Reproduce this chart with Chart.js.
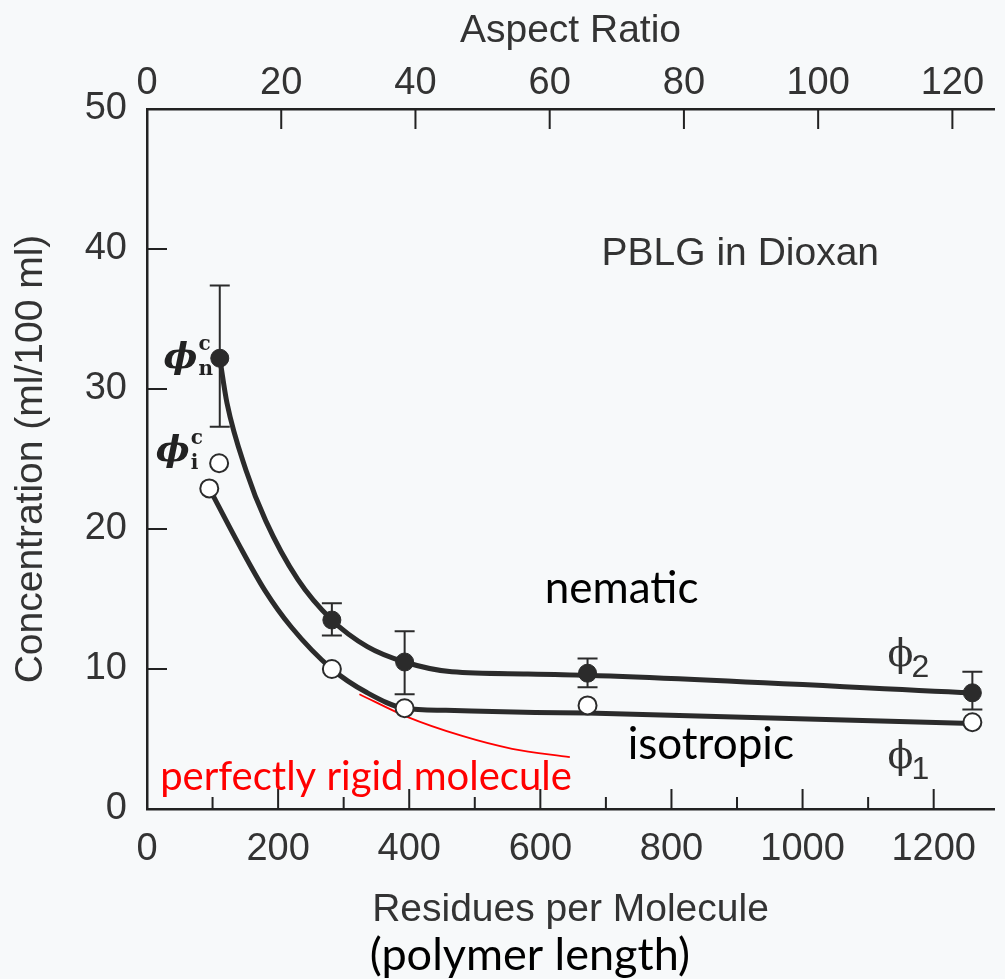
<!DOCTYPE html>
<html>
<head>
<meta charset="utf-8">
<script src="https://cdn.jsdelivr.net/npm/chart.js@4.4.1/dist/chart.umd.min.js"></script>
<style>
html, body { margin: 0; padding: 0; background: #f7f9fa; }
</style>
</head>
<body>
<canvas id="graficoPBLG" width="1005" height="979"></canvas>
<script>
// pontos medidos (residuos por molecula x concentracao)
const residuosNematico = [111, 282, 393, 672, 1259];
const phi2 = [32.2, 13.5, 10.5, 9.7, 8.3];
const phi2Max = [37.4, 14.7, 12.7, 10.75, 9.8];
const phi2Min = [27.3, 12.4, 8.2, 8.7, 7.1];

const residuosIsotropico = [95, 110, 282, 393, 672, 1259];
const phi1 = [22.9, 24.7, 10.0, 7.2, 7.4, 6.2];

// curvas desenhadas a mao na figura
const curvaNematicoX = [111, 122, 151, 181, 230, 282, 336, 393, 465, 580, 672, 1259];
const curvaNematicoY = [32.2, 29.0, 24.2, 20.6, 16.4, 13.5, 11.6, 10.5, 9.8, 9.65, 9.55, 8.3];
const curvaIsotropicoX = [95, 140, 180, 220, 282, 336, 393, 456, 592, 672, 1259];
const curvaIsotropicoY = [22.9, 18.9, 15.6, 13.0, 10.0, 8.3, 7.2, 7.05, 6.9, 6.85, 6.1];
const curvaRigidaX = [324, 396, 482, 557, 645];
const curvaRigidaY = [8.2, 6.6, 5.2, 4.3, 3.7];

const ticksResiduos = [0, 200, 400, 600, 800, 1000, 1200];
const ticksAspecto = [0, 20, 40, 60, 80, 100, 120];
const ticksConcentracao = [0, 10, 20, 30, 40, 50];

const corEixo = '#222';
const corTexto = '#333';
const fonteEixo = { family: '"Liberation Sans", Arial, sans-serif', size: 38 };
const fonteTitulo = { family: '"Liberation Sans", Arial, sans-serif', size: 39 };

function pares(xs, ys) {
    return xs.map((x, i) => ({ x: x, y: ys[i] }));
}

const anotacoes = [
    { texto: 'PBLG in Dioxan', x: 905, y: 39.6, fonte: '39px "Liberation Sans"', cor: corTexto },
    { texto: 'nematic', x: 724, y: 15.7, fonte: '44px Lato', cor: '#000' },
    { texto: 'isotropic', x: 860, y: 4.6, fonte: '44px Lato', cor: '#000' },
    { texto: 'perfectly rigid molecule', x: 334, y: 2.3, fonte: '40px Lato', cor: '#ff0000' },
];

// barras de erro
const pluginErros = {
    id: 'barrasErro',
    beforeDatasetsDraw(chart) {
        const ctx = chart.ctx;
        const sx = chart.scales.x, sy = chart.scales.y;
        ctx.save();
        ctx.strokeStyle = '#2b2b2b';
        ctx.lineWidth = 2;
        residuosNematico.forEach((r, i) => {
            const px = sx.getPixelForValue(r);
            const y1 = sy.getPixelForValue(phi2Max[i]);
            const y2 = sy.getPixelForValue(phi2Min[i]);
            ctx.beginPath();
            ctx.moveTo(px, y1); ctx.lineTo(px, y2);
            ctx.moveTo(px - 10, y1); ctx.lineTo(px + 10, y1);
            ctx.moveTo(px - 10, y2); ctx.lineTo(px + 10, y2);
            ctx.stroke();
        });
        ctx.restore();
    }
};

// ticks para dentro + textos
const pluginDecoracao = {
    id: 'decoracao',
    afterDraw(chart) {
        const ctx = chart.ctx;
        const sx = chart.scales.x, sx2 = chart.scales.x2, sy = chart.scales.y;
        const area = chart.chartArea;
        ctx.save();
        ctx.strokeStyle = corEixo;
        ctx.lineWidth = 2;
        ctx.beginPath();
        ticksResiduos.forEach((v, i) => {
            const px = sx.getPixelForValue(v);
            ctx.moveTo(px, area.bottom); ctx.lineTo(px, area.bottom - 20);
            const m = sx.getPixelForValue(v + 100);
            if (m < area.right) { ctx.moveTo(m, area.bottom); ctx.lineTo(m, area.bottom - 12); }
        });
        ticksAspecto.forEach(v => {
            const px = sx2.getPixelForValue(v);
            ctx.moveTo(px, area.top); ctx.lineTo(px, area.top + 20);
        });
        ticksConcentracao.forEach(v => {
            const py = sy.getPixelForValue(v);
            ctx.moveTo(area.left, py); ctx.lineTo(area.left + 20, py);
        });
        ctx.stroke();

        ctx.textAlign = 'center';
        ctx.textBaseline = 'middle';
        anotacoes.forEach(a => {
            ctx.font = a.fonte;
            ctx.fillStyle = a.cor;
            ctx.fillText(a.texto, sx.getPixelForValue(a.x), sy.getPixelForValue(a.y));
        });

        // (polymer length) abaixo do titulo do eixo
        ctx.font = '45px Lato';
        ctx.fillStyle = '#000';
        ctx.fillText('(polymer length)', sx.getPixelForValue(584), chart.height - 24);

        // phi 2 e phi 1
        ctx.fillStyle = corTexto;
        ctx.textAlign = 'left';
        [['2', 10.8], ['1', 3.5]].forEach(([sub, yv]) => {
            const px = sx.getPixelForValue(1157) - 18;
            const py = sy.getPixelForValue(yv);
            ctx.font = '38px "DejaVu Serif"';
            ctx.fillText('\u03D5', px, py - 2);
            const w = ctx.measureText('\u03D5').width;
            ctx.font = '32px "Liberation Sans"';
            ctx.fillText(sub, px + w - 2, py + 10);
        });

        // phi_n^c e phi_i^c
        ctx.fillStyle = '#222';
        [['n', 65, 32.2], ['i', 53, 25.5]].forEach(([sub, xv, yv]) => {
            const px = sx.getPixelForValue(xv) - 26;
            const py = sy.getPixelForValue(yv);
            ctx.font = 'italic bold 36px "DejaVu Serif"';
            ctx.fillText('\u03D5', px, py);
            const w = ctx.measureText('\u03D5').width;
            ctx.font = 'bold 20px "DejaVu Serif"';
            ctx.fillText('c', px + w + 1, py - 13);
            ctx.fillText(sub, px + w + 1, py + 12);
        });
        ctx.restore();
    }
};

const contexto = document.getElementById('graficoPBLG').getContext('2d');
const semMilhar = v => String(v);

new Chart(contexto, {
    type: 'scatter',
    data: {
        datasets: [
            {
                label: 'phi2',
                data: pares(residuosNematico, phi2),
                pointRadius: 9,
                pointBackgroundColor: '#2b2b2b',
                pointBorderColor: '#2b2b2b',
                pointBorderWidth: 1,
                showLine: false,
            },
            {
                label: 'phi1',
                data: pares(residuosIsotropico, phi1),
                pointRadius: 9,
                pointBackgroundColor: '#ffffff',
                pointBorderColor: '#2b2b2b',
                pointBorderWidth: 2,
                showLine: false,
            },
            {
                label: 'curva nematico',
                data: pares(curvaNematicoX, curvaNematicoY),
                showLine: true,
                pointRadius: 0,
                borderColor: '#2b2b2b',
                borderWidth: 5,
                cubicInterpolationMode: 'monotone',
            },
            {
                label: 'curva isotropico',
                data: pares(curvaIsotropicoX, curvaIsotropicoY),
                showLine: true,
                pointRadius: 0,
                borderColor: '#2b2b2b',
                borderWidth: 5,
                cubicInterpolationMode: 'monotone',
            },
            {
                label: 'molecula rigida',
                data: pares(curvaRigidaX, curvaRigidaY),
                showLine: true,
                pointRadius: 0,
                borderColor: '#ff0000',
                borderWidth: 1.8,
                cubicInterpolationMode: 'monotone',
            },
        ],
    },
    options: {
        responsive: false,
        animation: false,
        devicePixelRatio: 1,
        layout: { padding: 0 },
        plugins: {
            legend: { display: false },
            tooltip: { enabled: false },
        },
        scales: {
            x: {
                type: 'linear',
                position: 'bottom',
                min: 0,
                max: 1292,
                afterBuildTicks: s => { s.ticks = ticksResiduos.map(v => ({ value: v })); },
                ticks: { font: fonteEixo, color: corTexto, padding: 18, callback: semMilhar },
                grid: { display: false, drawTicks: false },
                border: { color: corEixo, width: 2.5 },
                title: {
                    display: true,
                    text: 'Residues per Molecule',
                    font: fonteTitulo,
                    color: corTexto,
                    padding: { top: 0, bottom: 45 },
                },
                afterFit: s => { s.height = 170; },
            },
            x2: {
                type: 'linear',
                axis: 'x',
                position: 'top',
                min: 0,
                max: 126.2,
                afterBuildTicks: s => { s.ticks = ticksAspecto.map(v => ({ value: v })); },
                ticks: { font: fonteEixo, color: corTexto, padding: 3, callback: semMilhar },
                grid: { display: false, drawTicks: false },
                border: { color: corEixo, width: 2.5 },
                title: {
                    display: true,
                    text: 'Aspect Ratio',
                    font: fonteTitulo,
                    color: corTexto,
                    padding: { top: 8, bottom: 0 },
                },
                afterFit: s => { s.height = 109; },
            },
            y: {
                type: 'linear',
                min: 0,
                max: 50,
                afterBuildTicks: s => { s.ticks = ticksConcentracao.map(v => ({ value: v })); },
                ticks: { font: fonteEixo, color: corTexto, padding: 20 },
                grid: { display: false, drawTicks: false },
                border: { color: corEixo, width: 2.5 },
                title: {
                    display: true,
                    text: 'Concentration (ml/100 ml)',
                    font: fonteTitulo,
                    color: corTexto,
                    padding: { top: 8, bottom: 0 },
                },
                afterFit: s => { s.width = 147; },
            },
        },
    },
    plugins: [pluginErros, pluginDecoracao],
});
</script>
</body>
</html>
